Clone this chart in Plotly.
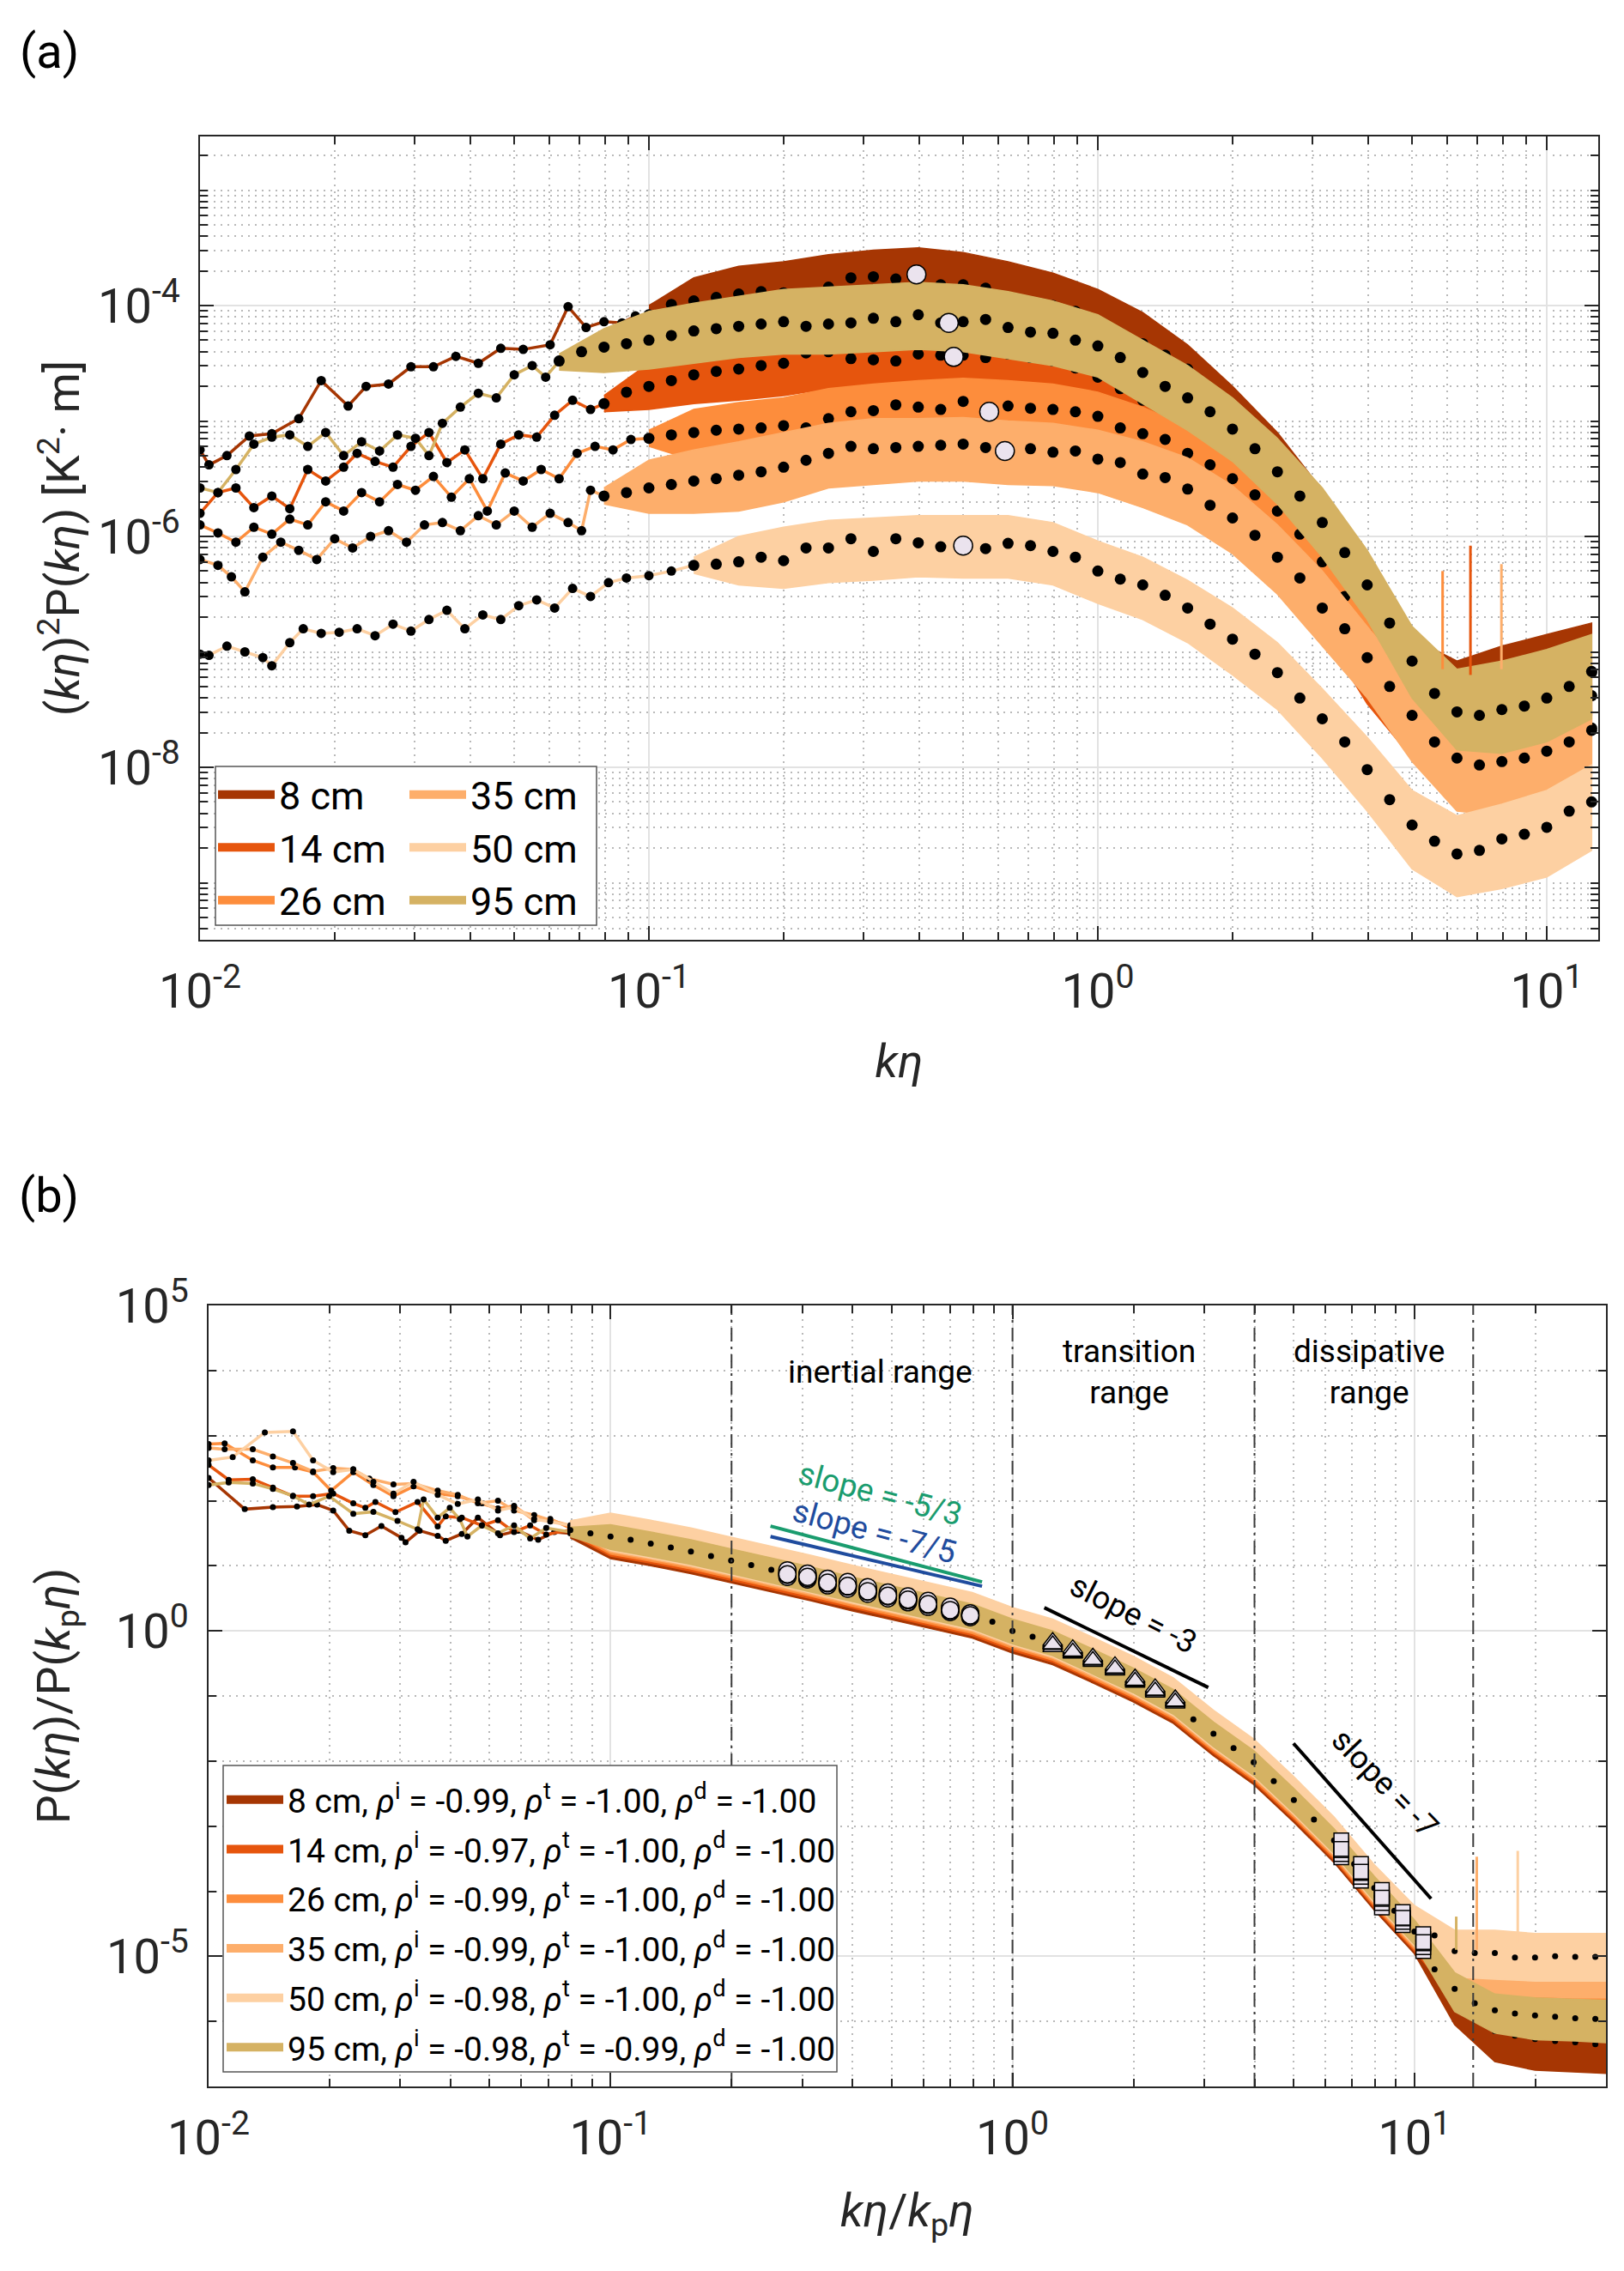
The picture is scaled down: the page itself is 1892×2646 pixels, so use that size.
import math
import plotly.graph_objects as go

W, H = 1892, 2646

# ------------------------------------------------------------------ labels / colours
SERIES = ["8 cm", "14 cm", "26 cm", "35 cm", "50 cm", "95 cm"]
COLORS = ["#a63603", "#e6550d", "#fd8d3c", "#fdae6b", "#fdd0a2", "#d5b263"]
RHO_I = ["-0.99", "-0.97", "-0.99", "-0.99", "-0.98", "-0.98"]
RHO_T = ["-1.00", "-1.00", "-1.00", "-1.00", "-1.00", "-0.99"]
RHO_D = ["-1.00", "-1.00", "-1.00", "-1.00", "-1.00", "-1.00"]

# ------------------------------------------------------------------ panel (a): log10(k eta), log10((k eta)^2 P)
# low-k single-realisation lines
A_LX_8 = [-2.00,-1.98,-1.94,-1.89,-1.84,-1.78,-1.73,-1.67,-1.63,-1.58,-1.53,-1.48,-1.43,-1.38,-1.33,-1.28,-1.22,-1.18,-1.14,-1.10,-1.06,-1.03,-1.00]
A_LY_8 = [-5.25,-5.38,-5.30,-5.13,-5.11,-4.98,-4.65,-4.87,-4.70,-4.68,-4.53,-4.53,-4.44,-4.50,-4.37,-4.38,-4.34,-4.01,-4.19,-4.14,-4.15,-4.09,-4.08]
A_LX_14 = [-2.00,-1.96,-1.92,-1.88,-1.84,-1.80,-1.76,-1.72,-1.68,-1.65,-1.61,-1.57,-1.53,-1.49,-1.45,-1.41,-1.37,-1.33,-1.29,-1.25,-1.21,-1.17,-1.13,-1.10]
A_LY_14 = [-5.80,-5.62,-5.58,-5.75,-5.65,-5.76,-5.42,-5.52,-5.40,-5.28,-5.35,-5.40,-5.22,-5.10,-5.36,-5.25,-5.50,-5.20,-5.12,-5.14,-4.95,-4.82,-4.90,-4.85]
A_LX_26 = [-2.00,-1.96,-1.92,-1.88,-1.84,-1.80,-1.76,-1.72,-1.68,-1.64,-1.60,-1.56,-1.52,-1.48,-1.44,-1.40,-1.36,-1.32,-1.28,-1.24,-1.20,-1.16,-1.12,-1.08,-1.04,-1.00]
A_LY_26 = [-5.90,-5.97,-6.05,-5.92,-5.98,-5.85,-5.90,-5.70,-5.78,-5.62,-5.70,-5.55,-5.60,-5.48,-5.66,-5.50,-5.78,-5.45,-5.52,-5.42,-5.50,-5.28,-5.22,-5.25,-5.16,-5.15]
A_LX_35 = [-2.00,-1.96,-1.93,-1.90,-1.86,-1.82,-1.78,-1.74,-1.70,-1.66,-1.62,-1.58,-1.54,-1.50,-1.46,-1.42,-1.38,-1.34,-1.30,-1.26,-1.22,-1.18,-1.15,-1.13,-1.10]
A_LY_35 = [-6.20,-6.25,-6.35,-6.48,-6.18,-6.05,-6.12,-6.20,-6.02,-6.10,-6.00,-5.95,-6.05,-5.90,-5.88,-5.95,-5.82,-5.90,-5.78,-5.92,-5.80,-5.88,-5.95,-5.60,-5.65]
A_LX_50 = [-2.00,-1.98,-1.94,-1.90,-1.86,-1.84,-1.80,-1.77,-1.73,-1.69,-1.65,-1.61,-1.57,-1.53,-1.49,-1.45,-1.41,-1.37,-1.33,-1.29,-1.25,-1.21,-1.17,-1.13,-1.09,-1.05,-1.00,-0.95,-0.90]
A_LY_50 = [-7.02,-7.03,-6.95,-7.00,-7.05,-7.12,-6.92,-6.80,-6.84,-6.83,-6.80,-6.86,-6.76,-6.82,-6.72,-6.64,-6.80,-6.68,-6.72,-6.60,-6.55,-6.62,-6.45,-6.52,-6.40,-6.36,-6.34,-6.30,-6.25]
A_LX_95 = [-2.00,-1.96,-1.92,-1.88,-1.84,-1.80,-1.76,-1.72,-1.68,-1.64,-1.60,-1.56,-1.52,-1.49,-1.46,-1.42,-1.38,-1.34,-1.30,-1.26,-1.23,-1.20]
A_LY_95 = [-5.58,-5.62,-5.42,-5.20,-5.14,-5.12,-5.22,-5.10,-5.30,-5.18,-5.26,-5.12,-5.15,-5.30,-5.02,-4.88,-4.76,-4.80,-4.60,-4.52,-4.62,-4.48]

# bin-averaged spectra (black dots) on a shared log grid
A_GRID = [-1.30,-1.25,-1.20,-1.15,-1.10,-1.05,-1.00,-0.95,-0.90,-0.85,-0.80,-0.75,-0.70,-0.65,-0.60,-0.55,-0.50,-0.45,-0.40,-0.35,
          -0.30,-0.25,-0.20,-0.15,-0.10,-0.05,0.00,0.05,0.10,0.15,0.20,0.25,0.30,0.35,0.40,0.45,0.50,0.55,0.60,0.65,
          0.70,0.75,0.80,0.85,0.90,0.95,1.00,1.05,1.10]
A_DOT_8 = [None]*6 + [-4.08,-3.99,-3.96,-3.93,-3.90,-3.88,-3.89,-3.90,-3.84,-3.76,-3.75,-3.77,-3.73,-3.82,-3.82,-3.85,-3.94,-3.97,-4.00,-4.05,
                      -4.14,-4.24,-4.33,-4.43,-4.55,-4.72,-4.92,-5.15,-5.40,-5.68,-5.98,-6.30,-6.62,-6.95,-7.22,-7.42,-7.52,-7.55,-7.50,-7.45,
                      -7.38,-7.30,-7.18]
A_DOT_14 = [None]*4 + [-4.85,-4.75,-4.70,-4.65,-4.60,-4.57,-4.55,-4.52,-4.50,-4.41,-4.40,-4.46,-4.47,-4.48,-4.42,-4.43,-4.43,-4.45,-4.42,-4.45,
                       -4.48,-4.54,-4.62,-4.72,-4.82,-4.94,-5.08,-5.25,-5.45,-5.68,-5.93,-6.20,-6.50,-6.82,-7.12,-7.38,-7.58,-7.70,-7.76,-7.76,
                       -7.72,-7.66,-7.58,-7.48,-7.38]
A_DOT_26 = [None]*6 + [-5.15,-5.12,-5.10,-5.08,-5.07,-5.06,-5.04,-5.06,-4.98,-4.92,-4.91,-4.86,-4.88,-4.90,-4.83,-4.91,-4.87,-4.89,-4.90,-4.92,
                       -4.96,-5.06,-5.11,-5.16,-5.28,-5.38,-5.50,-5.64,-5.78,-5.98,-6.22,-6.52,-6.85,-7.18,-7.50,-7.75,-7.92,-7.97,-7.95,-7.92,
                       -7.86,-7.76,-7.66]
A_DOT_35 = [None]*4 + [-5.65,-5.62,-5.58,-5.55,-5.52,-5.50,-5.47,-5.44,-5.40,-5.34,-5.28,-5.22,-5.24,-5.23,-5.22,-5.21,-5.20,-5.23,-5.25,-5.24,
                       -5.27,-5.26,-5.33,-5.36,-5.46,-5.49,-5.59,-5.73,-5.84,-5.99,-6.18,-6.36,-6.62,-6.80,-7.05,-7.30,-7.55,-7.78,-7.92,-7.98,
                       -7.95,-7.92,-7.86,-7.78,-7.68]
A_DOT_50 = [None]*8 + [-6.25,-6.24,-6.22,-6.18,-6.21,-6.10,-6.10,-6.02,-6.13,-6.02,-6.055,-6.09,-6.075,-6.105,-6.06,-6.08,-6.13,-6.18,-6.30,-6.37,
                       -6.42,-6.51,-6.62,-6.76,-6.89,-7.02,-7.18,-7.40,-7.58,-7.78,-8.02,-8.28,-8.50,-8.64,-8.75,-8.72,-8.62,-8.58,-8.52,-8.38,
                       -8.30]
A_DOT_95 = [None]*2 + [-4.48,-4.40,-4.36,-4.33,-4.30,-4.26,-4.22,-4.20,-4.18,-4.16,-4.14,-4.18,-4.16,-4.15,-4.11,-4.14,-4.08,-4.15,-4.14,-4.12,
                       -4.19,-4.23,-4.24,-4.30,-4.35,-4.45,-4.58,-4.70,-4.80,-4.92,-5.07,-5.24,-5.44,-5.65,-5.88,-6.14,-6.42,-6.75,-7.08,-7.36,
                       -7.52,-7.55,-7.50,-7.47,-7.40,-7.30,-7.17]

# envelope of the noisy raw spectra
A_BAND_X = [-1.3,-1.2,-1.1,-1.0,-0.9,-0.8,-0.7,-0.6,-0.5,-0.4,-0.3,-0.2,-0.1,0.0,0.1,0.2,0.3,0.4,0.5,0.6,0.7,0.8,0.9,1.0,1.1]
A_UP_8 = [None,None,None,-4.00,-3.76,-3.66,-3.62,-3.56,-3.52,-3.50,-3.54,-3.62,-3.72,-3.86,-4.06,-4.34,-4.70,-5.10,-5.60,-6.22,-6.88,-7.08,-6.95,-6.85,-6.75]
A_LO_8 = [None,None,None,-4.14,-4.13,-4.10,-4.10,-4.05,-4.00,-3.98,-4.02,-4.12,-4.22,-4.36,-4.55,-4.80,-5.16,-5.66,-6.28,-6.95,-7.55,-7.85,-7.85,-7.72,-7.55]
A_UP_14 = [None,None,-4.78,-4.50,-4.36,-4.30,-4.24,-4.18,-4.20,-4.18,-4.18,-4.18,-4.24,-4.38,-4.56,-4.84,-5.20,-5.66,-6.22,-6.85,-7.28,-7.42,-7.38,-7.25,-7.08]
A_LO_14 = [None,None,-4.92,-4.90,-4.85,-4.82,-4.78,-4.72,-4.75,-4.72,-4.72,-4.72,-4.80,-4.90,-5.10,-5.38,-5.76,-6.25,-6.82,-7.45,-7.92,-8.08,-8.05,-7.92,-7.72]
A_UP_26 = [None,None,None,-5.08,-4.90,-4.84,-4.80,-4.72,-4.68,-4.65,-4.63,-4.65,-4.68,-4.75,-4.88,-5.05,-5.25,-5.52,-5.95,-6.58,-7.22,-7.58,-7.58,-7.48,-7.30]
A_LO_26 = [None,None,None,-5.22,-5.34,-5.36,-5.32,-5.26,-5.18,-5.16,-5.14,-5.16,-5.18,-5.24,-5.38,-5.58,-5.82,-6.10,-6.55,-7.22,-7.90,-8.32,-8.38,-8.26,-8.08]
A_UP_35 = [None,None,-5.58,-5.34,-5.25,-5.18,-5.10,-5.02,-4.98,-4.98,-4.97,-5.00,-5.02,-5.08,-5.18,-5.32,-5.56,-5.90,-6.30,-6.78,-7.25,-7.52,-7.52,-7.45,-7.28]
A_LO_35 = [None,None,-5.72,-5.80,-5.80,-5.78,-5.70,-5.58,-5.55,-5.52,-5.52,-5.55,-5.56,-5.62,-5.75,-5.90,-6.15,-6.50,-6.95,-7.40,-7.95,-8.38,-8.42,-8.32,-8.12]
A_UP_50 = [None,None,None,None,-6.18,-6.00,-5.92,-5.86,-5.84,-5.82,-5.82,-5.82,-5.88,-6.04,-6.18,-6.38,-6.62,-6.92,-7.32,-7.74,-8.20,-8.42,-8.32,-8.20,-7.98]
A_LO_50 = [None,None,None,None,-6.32,-6.42,-6.45,-6.40,-6.38,-6.35,-6.36,-6.36,-6.42,-6.58,-6.72,-6.92,-7.20,-7.50,-7.92,-8.38,-8.88,-9.12,-9.05,-8.95,-8.72]
A_UP_95 = [None,-4.42,-4.20,-4.05,-3.98,-3.92,-3.86,-3.84,-3.82,-3.80,-3.82,-3.88,-3.96,-4.08,-4.30,-4.52,-4.80,-5.15,-5.58,-6.12,-6.78,-7.15,-7.08,-6.98,-6.85]
A_LO_95 = [None,-4.56,-4.58,-4.55,-4.50,-4.45,-4.42,-4.42,-4.40,-4.38,-4.40,-4.46,-4.52,-4.62,-4.85,-5.08,-5.35,-5.72,-6.18,-6.72,-7.40,-7.85,-7.88,-7.78,-7.58]

# isolated spikes near k eta ~ 6-8
A_SPIKE_X = [0.768, 0.830, 0.899]
A_SPIKE_TOP = [-6.30, -6.08, -6.24]
A_SPIKE_BASE = [-7.15, -7.20, -7.15]
A_SPIKE_SERIES = [2, 1, 3]

# peak wavenumber markers (k_p eta)
A_PEAK_X = [-0.404, -0.321, -0.242, -0.207, -0.300, -0.332]
A_PEAK_Y = [-3.73, -4.445, -4.92, -5.26, -6.08, -4.15]

# ------------------------------------------------------------------ panel (b): log10(k eta / k_p eta), log10(P/P(k_p eta))
B_LX_8 = [-2.00,-1.91,-1.84,-1.78,-1.73,-1.69,-1.65,-1.61,-1.57,-1.52,-1.51,-1.475,-1.43,-1.41,-1.37,-1.33,-1.275,-1.23,-1.18,-1.14,-1.10]
B_LY_8 = [2.35,1.87,1.90,1.91,1.94,1.85,1.54,1.47,1.61,1.43,1.36,1.54,1.46,1.385,1.49,1.74,1.47,1.54,1.40,1.52,1.50]
B_LX_14 = [-2.00,-1.95,-1.89,-1.84,-1.79,-1.74,-1.69,-1.64,-1.61,-1.585,-1.535,-1.48,-1.43,-1.41,-1.37,-1.32,-1.28,-1.24,-1.20,-1.16,-1.10]
B_LY_14 = [2.55,2.32,2.33,2.20,2.07,2.07,2.11,1.96,1.89,1.98,1.825,1.98,1.605,1.76,1.74,1.62,1.70,1.52,1.62,1.48,1.55]
B_LX_26 = [-2.00,-1.96,-1.89,-1.84,-1.785,-1.74,-1.695,-1.64,-1.59,-1.54,-1.49,-1.43,-1.38,-1.32,-1.28,-1.24,-1.19,-1.15,-1.10]
B_LY_26 = [2.87,2.88,2.62,2.51,2.51,2.44,2.155,2.44,2.24,2.07,2.22,2.11,2.07,1.96,1.88,1.92,1.70,1.72,1.58]
B_LX_35 = [-2.00,-1.96,-1.89,-1.84,-1.79,-1.74,-1.69,-1.64,-1.60,-1.54,-1.49,-1.43,-1.38,-1.33,-1.28,-1.24,-1.19,-1.15,-1.10]
B_LY_35 = [2.81,2.79,2.79,2.68,2.58,2.45,2.50,2.48,2.34,2.25,2.265,2.155,2.09,1.96,2.00,1.85,1.78,1.70,1.62]
B_LX_50 = [-2.00,-1.94,-1.86,-1.79,-1.74,-1.69,-1.64,-1.59,-1.54,-1.49,-1.43,-1.38,-1.33,-1.28,-1.24,-1.19,-1.15,-1.10]
B_LY_50 = [2.62,2.67,3.05,3.065,2.62,2.44,2.48,2.29,2.11,2.29,2.09,1.95,2.02,1.85,1.90,1.72,1.68,1.62]
B_LX_95 = [-2.00,-1.95,-1.89,-1.84,-1.79,-1.75,-1.70,-1.64,-1.59,-1.53,-1.48,-1.465,-1.43,-1.40,-1.375,-1.356,-1.32,-1.28,-1.24,-1.20,-1.16,-1.10]
B_LY_95 = [2.24,2.28,2.265,2.18,2.075,1.94,2.07,1.80,1.83,1.69,1.56,2.02,1.74,1.89,1.715,1.45,1.62,1.50,1.62,1.42,1.58,1.52]

# collapsed bin averages (all heights coincide up to k/k_p ~ 10) and the separate noise floors
B_GRID = [-1.10,-1.05,-1.00,-0.95,-0.90,-0.85,-0.80,-0.75,-0.70,-0.65,-0.60,-0.55,-0.50,-0.45,-0.40,-0.35,-0.30,-0.25,-0.20,-0.15,
          -0.10,-0.05,0.00,0.05,0.10,0.15,0.20,0.25,0.30,0.35,0.40,0.45,0.50,0.55,0.60,0.65,0.70,0.75,0.80,0.85,
          0.90,0.95,1.00,1.05,1.10,1.15,1.20,1.25,1.30,1.35,1.40,1.45]
B_MID = [1.55,1.50,1.45,1.40,1.34,1.28,1.22,1.15,1.08,1.01,0.94,0.87,0.80,0.72,0.65,0.58,0.51,0.44,0.37,0.30,
         0.23,0.14,0.00,-0.09,-0.18,-0.32,-0.46,-0.60,-0.75,-0.90,-1.08,-1.36,-1.58,-1.80,-2.02,-2.31,-2.60,-2.90,-3.22,-3.58,
         -3.95,-4.30,-4.62]
B_TAIL_8 = [-5.10,-5.62,-5.98,-6.15,-6.22,-6.27,-6.30,-6.32,-6.35]
B_TAIL_14 = [-5.00,-5.30,-5.48,-5.56,-5.60,-5.62,-5.63,-5.62,-5.63]
B_TAIL_26 = [-4.98,-5.25,-5.42,-5.50,-5.55,-5.57,-5.58,-5.58,-5.58]
B_TAIL_35 = [-4.92,-5.12,-5.24,-5.28,-5.30,-5.30,-5.31,-5.32,-5.32]
B_TAIL_50 = [-4.68,-4.92,-4.95,-4.95,-5.02,-5.02,-5.00,-5.01,-5.01]
B_TAIL_95 = [-5.20,-5.50,-5.72,-5.83,-5.88,-5.91,-5.93,-5.95,-5.96]

B_BAND_X = [-1.1,-1.0,-0.9,-0.8,-0.7,-0.6,-0.5,-0.4,-0.3,-0.2,-0.1,0.0,0.1,0.2,0.3,0.4,0.5,0.6,0.7,0.8,0.9,1.0,1.1,1.2,1.3,1.4,1.48]
B_UP_8 = [1.57,1.63,1.52,1.40,1.26,1.12,0.98,0.83,0.69,0.55,0.41,0.18,0.00,-0.28,-0.57,-0.90,-1.40,-1.84,-2.42,-3.04,-3.77,-4.44,-5.20,-5.85,-5.95,-5.98,-6.00]
B_LO_8 = [1.43,1.11,1.00,0.88,0.74,0.60,0.46,0.31,0.17,0.03,-0.11,-0.34,-0.52,-0.80,-1.09,-1.42,-1.92,-2.36,-2.94,-3.56,-4.29,-4.96,-6.05,-6.62,-6.75,-6.78,-6.80]
B_UP_14 = [1.62,1.67,1.56,1.44,1.30,1.16,1.02,0.87,0.73,0.59,0.45,0.22,0.04,-0.24,-0.53,-0.86,-1.36,-1.80,-2.38,-3.00,-3.73,-4.40,-5.00,-5.25,-5.32,-5.32,-5.33]
B_LO_14 = [1.48,1.15,1.04,0.92,0.78,0.64,0.50,0.35,0.21,0.07,-0.07,-0.30,-0.48,-0.76,-1.05,-1.38,-1.88,-2.32,-2.90,-3.52,-4.25,-4.92,-5.65,-5.90,-5.98,-5.98,-5.98]
B_UP_26 = [1.65,1.71,1.60,1.48,1.34,1.20,1.06,0.91,0.77,0.63,0.49,0.26,0.08,-0.20,-0.49,-0.82,-1.32,-1.76,-2.34,-2.96,-3.69,-4.36,-4.95,-5.18,-5.25,-5.27,-5.28]
B_LO_26 = [1.51,1.18,1.07,0.95,0.81,0.67,0.53,0.38,0.24,0.10,-0.04,-0.27,-0.45,-0.73,-1.02,-1.35,-1.85,-2.29,-2.87,-3.49,-4.22,-4.89,-5.58,-5.82,-5.88,-5.90,-5.90]
B_UP_35 = [1.69,1.77,1.66,1.54,1.40,1.26,1.12,0.97,0.83,0.69,0.55,0.32,0.14,-0.14,-0.43,-0.76,-1.26,-1.70,-2.28,-2.90,-3.63,-4.30,-4.80,-4.98,-4.98,-5.00,-5.00]
B_LO_35 = [1.55,1.21,1.10,0.98,0.84,0.70,0.56,0.41,0.27,0.13,-0.01,-0.24,-0.42,-0.70,-0.99,-1.32,-1.82,-2.26,-2.84,-3.46,-4.19,-4.86,-5.45,-5.62,-5.62,-5.64,-5.64]
B_UP_50 = [1.69,1.81,1.70,1.58,1.44,1.30,1.16,1.01,0.87,0.73,0.59,0.36,0.18,-0.10,-0.39,-0.72,-1.22,-1.66,-2.24,-2.86,-3.59,-4.22,-4.60,-4.60,-4.65,-4.65,-4.65]
B_LO_50 = [1.55,1.23,1.12,1.00,0.86,0.72,0.58,0.43,0.29,0.15,0.01,-0.22,-0.40,-0.68,-0.97,-1.30,-1.80,-2.24,-2.82,-3.44,-4.17,-4.84,-5.32,-5.35,-5.38,-5.38,-5.38]
B_UP_95 = [1.59,1.63,1.52,1.40,1.26,1.12,0.98,0.83,0.69,0.55,0.41,0.18,0.00,-0.28,-0.57,-0.90,-1.40,-1.84,-2.42,-3.04,-3.77,-4.44,-5.25,-5.58,-5.64,-5.66,-5.68]
B_LO_95 = [1.45,1.25,1.14,1.02,0.88,0.74,0.60,0.45,0.31,0.17,0.03,-0.20,-0.38,-0.66,-0.95,-1.28,-1.78,-2.22,-2.80,-3.42,-4.15,-4.82,-5.85,-6.18,-6.28,-6.30,-6.33]

B_SPIKE_X = [1.104, 1.155, 1.257]
B_SPIKE_TOP = [-4.39, -3.47, -3.38]
B_SPIKE_BASE = [-4.90, -4.90, -4.80]
B_SPIKE_SERIES = [5, 3, 4]

# range markers: inertial (circles), transition (triangles), dissipative (squares)
B_CIRC_X = [-0.56,-0.51,-0.46,-0.41,-0.36,-0.31,-0.26,-0.21,-0.155,-0.105]
B_CIRC_8 = [0.83,0.79,0.70,0.65,0.57,0.50,0.44,0.37,0.29,0.21]
B_CIRC_14 = [0.86,0.81,0.73,0.68,0.60,0.53,0.47,0.40,0.31,0.23]
B_CIRC_26 = [0.88,0.84,0.75,0.70,0.62,0.55,0.49,0.42,0.33,0.24]
B_CIRC_35 = [0.90,0.86,0.77,0.72,0.64,0.57,0.51,0.44,0.35,0.26]
B_CIRC_50 = [0.93,0.88,0.80,0.75,0.67,0.59,0.53,0.46,0.37,0.27]
B_CIRC_95 = [0.87,0.83,0.74,0.69,0.61,0.54,0.48,0.41,0.32,0.24]
B_TRI_X = [0.10,0.15,0.20,0.255,0.305,0.355,0.405]
B_TRI_8 = [-0.25,-0.35,-0.48,-0.61,-0.80,-0.95,-1.12]
B_TRI_14 = [-0.22,-0.33,-0.46,-0.59,-0.78,-0.93,-1.10]
B_TRI_26 = [-0.20,-0.31,-0.44,-0.57,-0.76,-0.91,-1.08]
B_TRI_35 = [-0.18,-0.29,-0.42,-0.55,-0.74,-0.89,-1.06]
B_TRI_50 = [-0.16,-0.27,-0.40,-0.53,-0.72,-0.87,-1.04]
B_TRI_95 = [-0.21,-0.32,-0.45,-0.58,-0.77,-0.92,-1.09]
B_SQ_X = [0.818,0.867,0.919,0.971,1.022]
B_SQ_8 = [-3.48,-3.84,-4.25,-4.52,-4.92]
B_SQ_14 = [-3.43,-3.78,-4.18,-4.47,-4.86]
B_SQ_26 = [-3.37,-3.72,-4.12,-4.42,-4.80]
B_SQ_35 = [-3.30,-3.66,-4.05,-4.37,-4.74]
B_SQ_50 = [-3.22,-3.58,-3.98,-4.32,-4.66]
B_SQ_95 = [-3.35,-3.70,-4.10,-4.41,-4.78]

B_RANGE_BOUNDS = [0.2, 1.0, 4.0, 14.0]
B_RANGE_NAMES = ["inertial range", "transition<br>range", "dissipative<br>range"]
B_RANGE_LABEL_X = [-0.330, 0.291, 0.887]
B_RANGE_LABEL_Y = 3.98

# reference power laws (end points, real units)
SLOPE_NAMES = ["slope = -5/3", "slope = -7/5", "slope = -3", "slope = -7"]
SLOPE_X = [[0.25, 0.84], [0.25, 0.84], [1.20, 3.07], [5.0, 11.0]]
SLOPE_Y = [[40.7, 5.65], [28.2, 4.85], [2.27, 0.135], [0.0187, 7.66e-5]]
SLOPE_COLORS = ["#1a9c6e", "#1f4c9e", "#000000", "#000000"]
SLOPE_LABEL_X = [-0.330, -0.343, 0.301, 0.926]
SLOPE_LABEL_Y = [2.11, 1.52, 0.264, -2.34]
SLOPE_LABEL_ANGLE = [15, 15, 27, 46]

# ------------------------------------------------------------------ collect
A_LX = [A_LX_8, A_LX_14, A_LX_26, A_LX_35, A_LX_50, A_LX_95]
A_LY = [A_LY_8, A_LY_14, A_LY_26, A_LY_35, A_LY_50, A_LY_95]
A_DOTS = [A_DOT_8, A_DOT_14, A_DOT_26, A_DOT_35, A_DOT_50, A_DOT_95]
A_UP = [A_UP_8, A_UP_14, A_UP_26, A_UP_35, A_UP_50, A_UP_95]
A_LO = [A_LO_8, A_LO_14, A_LO_26, A_LO_35, A_LO_50, A_LO_95]
B_LX = [B_LX_8, B_LX_14, B_LX_26, B_LX_35, B_LX_50, B_LX_95]
B_LY = [B_LY_8, B_LY_14, B_LY_26, B_LY_35, B_LY_50, B_LY_95]
B_TAILS = [B_TAIL_8, B_TAIL_14, B_TAIL_26, B_TAIL_35, B_TAIL_50, B_TAIL_95]
B_UP = [B_UP_8, B_UP_14, B_UP_26, B_UP_35, B_UP_50, B_UP_95]
B_LO = [B_LO_8, B_LO_14, B_LO_26, B_LO_35, B_LO_50, B_LO_95]
B_CIRC = [B_CIRC_8, B_CIRC_14, B_CIRC_26, B_CIRC_35, B_CIRC_50, B_CIRC_95]
B_TRI = [B_TRI_8, B_TRI_14, B_TRI_26, B_TRI_35, B_TRI_50, B_TRI_95]
B_SQ = [B_SQ_8, B_SQ_14, B_SQ_26, B_SQ_35, B_SQ_50, B_SQ_95]


def P(v):
    return [None if a is None else 10 ** a for a in v]


def polygon(xs, up, lo):
    keep = [i for i in range(len(xs)) if up[i] is not None]
    px = [xs[i] for i in keep] + [xs[i] for i in reversed(keep)]
    py = [up[i] for i in keep] + [lo[i] for i in reversed(keep)]
    return P(px), P(py)


MARK_FILL = "#ebe3ee"
fig = go.Figure()


def add(**kw):
    kw.setdefault("showlegend", False)
    kw.setdefault("hoverinfo", "skip")
    fig.add_trace(go.Scatter(**kw))


# ---------------- panel (a)
for i in range(6):
    c = COLORS[i]
    add(x=P(A_LX[i]), y=P(A_LY[i]), mode="lines+markers", line=dict(color=c, width=3.5),
        marker=dict(color="black", size=11), xaxis="x", yaxis="y")
    bx, by = polygon(A_BAND_X, A_UP[i], A_LO[i])
    add(x=bx, y=by, mode="lines", fill="toself", fillcolor=c, line=dict(color=c, width=1.5),
        xaxis="x", yaxis="y")
    add(x=P(A_GRID), y=P(A_DOTS[i]), mode="markers", marker=dict(color="black", size=13),
        xaxis="x", yaxis="y")
for sx, st, sb, si in zip(A_SPIKE_X, A_SPIKE_TOP, A_SPIKE_BASE, A_SPIKE_SERIES):
    add(x=P([sx, sx]), y=P([sb, st]), mode="lines", line=dict(color=COLORS[si], width=3),
        xaxis="x", yaxis="y")
add(x=P(A_PEAK_X), y=P(A_PEAK_Y), mode="markers",
    marker=dict(symbol="circle", size=22, color=MARK_FILL, line=dict(color="black", width=1.5)),
    xaxis="x", yaxis="y")

# ---------------- panel (b)
for i in range(6):
    c = COLORS[i]
    add(x=P(B_LX[i]), y=P(B_LY[i]), mode="lines+markers", line=dict(color=c, width=3.5),
        marker=dict(color="black", size=7), xaxis="x2", yaxis="y2")
    bx, by = polygon(B_BAND_X, B_UP[i], B_LO[i])
    add(x=bx, y=by, mode="lines", fill="toself", fillcolor=c, line=dict(color=c, width=1.5),
        xaxis="x2", yaxis="y2")
    add(x=P(B_GRID), y=P(B_MID + B_TAILS[i]), mode="markers", marker=dict(color="black", size=7),
        xaxis="x2", yaxis="y2")
for sx, st, sb, si in zip(B_SPIKE_X, B_SPIKE_TOP, B_SPIKE_BASE, B_SPIKE_SERIES):
    add(x=P([sx, sx]), y=P([sb, st]), mode="lines", line=dict(color=COLORS[si], width=3),
        xaxis="x2", yaxis="y2")
for b in B_RANGE_BOUNDS:
    add(x=[b, b], y=[1e-7, 1e5], mode="lines",
        line=dict(color="#3c3c3c", width=2, dash="16px,6px,3px,6px"), xaxis="x2", yaxis="y2")
for sx, sy, sc in zip(SLOPE_X, SLOPE_Y, SLOPE_COLORS):
    add(x=sx, y=sy, mode="lines", line=dict(color=sc, width=4), xaxis="x2", yaxis="y2")
for i in range(6):
    add(x=P(B_CIRC_X), y=P(B_CIRC[i]), mode="markers",
        marker=dict(symbol="circle", size=20, color=MARK_FILL, line=dict(color="black", width=1.5)),
        xaxis="x2", yaxis="y2")
    add(x=P(B_TRI_X), y=P(B_TRI[i]), mode="markers",
        marker=dict(symbol="triangle-up", size=20, color=MARK_FILL, line=dict(color="black", width=1.5)),
        xaxis="x2", yaxis="y2")
    add(x=P(B_SQ_X), y=P(B_SQ[i]), mode="markers",
        marker=dict(symbol="square", size=17, color=MARK_FILL, line=dict(color="black", width=1.5)),
        xaxis="x2", yaxis="y2")

# ---------------- legend entries
A_LEG_COL = ["legend", "legend", "legend", "legend2", "legend2", "legend2"]
for i in range(6):
    fig.add_trace(go.Scatter(x=[None], y=[None], mode="lines", name=SERIES[i],
                             line=dict(color=COLORS[i], width=16), legend=A_LEG_COL[i],
                             legendgroup="a%d" % i, showlegend=True, xaxis="x", yaxis="y"))
for i in range(6):
    label = (SERIES[i] + ", <i>ρ</i><sup>i</sup> = " + RHO_I[i] + ", <i>ρ</i><sup>t</sup> = " + RHO_T[i]
             + ", <i>ρ</i><sup>d</sup> = " + RHO_D[i])
    fig.add_trace(go.Scatter(x=[None], y=[None], mode="lines", name=label,
                             line=dict(color=COLORS[i], width=16), legend="legend3",
                             legendgroup="b%d" % i, showlegend=True, xaxis="x2", yaxis="y2"))

# ---------------- axes
FONT = "Roboto"
AXC = "#262626"


def log_axis(rng, domain, anchor, tickvals, minorvals, title, standoff):
    return dict(
        type="log", range=rng, domain=domain, anchor=anchor, automargin=False,
        showline=True, linecolor=AXC, linewidth=2, mirror="ticks",
        ticks="inside", ticklen=16, tickwidth=2, tickcolor=AXC,
        tickvals=tickvals, ticktext=["10<sup>%d</sup>" % round(math.log10(v)) for v in tickvals],
        tickfont=dict(family=FONT, size=56, color=AXC), ticklabelstandoff=10,
        showgrid=True, gridcolor="#e2e2e2", gridwidth=1.5, zeroline=False,
        minor=dict(tickvals=minorvals, ticks="inside", ticklen=9, tickwidth=1.5, tickcolor=AXC,
                   showgrid=True, gridcolor="#b9b9b9", griddash="2px,6px", gridwidth=1.5),
        title=dict(text=title, font=dict(family=FONT, size=54, color=AXC), standoff=standoff),
    )


minor_x = [m * 10.0 ** e for e in (-2, -1, 0, 1) for m in range(2, 10)]
minor_ya = [m * 10.0 ** e for e in range(-10, -2) for m in range(1, 10) if not (m == 1 and e % 2 == 0)]
minor_yb = [10.0 ** e for e in range(-7, 6) if e not in (-5, 0, 5)]

LEG_A = dict(xanchor="left", yanchor="top", bgcolor="rgba(0,0,0,0)",
             font=dict(family=FONT, size=45, color="black"), itemwidth=66, tracegroupgap=0)
fig.update_layout(
    width=W, height=H, margin=dict(l=0, r=0, t=0, b=0, autoexpand=False),
    paper_bgcolor="white", plot_bgcolor="white",
    font=dict(family=FONT, color="black"),
    xaxis=log_axis([-2, 1.1147], [233 / W, 1862 / W], "y", [0.01, 0.1, 1, 10], minor_x,
                   "<i>kη</i>", 30),
    yaxis=log_axis([-9.4944, -2.5353], [1 - 1095 / H, 1 - 159 / H], "x", [1e-8, 1e-6, 1e-4], minor_ya,
                   "(<i>kη</i>)<sup>2</sup>P(<i>kη</i>) [K<sup>2</sup>· m]", 4),
    xaxis2=log_axis([-2, 1.4765], [243 / W, 1871 / W], "y2", [0.01, 0.1, 1, 10], minor_x,
                    "<i>kη</i>/<i>k</i><sub>p</sub><i>η</i>", 33),
    yaxis2=log_axis([-7, 5], [1 - 2431 / H, 1 - 1521 / H], "x2", [1e-5, 1, 1e5], minor_yb,
                    "P(<i>kη</i>)/P(<i>k</i><sub>p</sub><i>η</i>)", 25),
    legend=dict(x=249 / W, y=1 - 890 / H, **LEG_A),
    legend2=dict(x=472 / W, y=1 - 890 / H, **LEG_A),
    legend3=dict(x=259 / W, y=1 - 2065 / H, xanchor="left", yanchor="top", bgcolor="rgba(0,0,0,0)",
                 font=dict(family=FONT, size=39, color="black"), itemwidth=66, tracegroupgap=4),
    shapes=[
        dict(type="rect", xref="paper", yref="paper", x0=251 / W, x1=695 / W, y0=1 - 1078 / H, y1=1 - 893 / H,
             line=dict(color="#555555", width=1.5), fillcolor="white", layer="above"),
        dict(type="rect", xref="paper", yref="paper", x0=260 / W, x1=975 / W, y0=1 - 2414 / H, y1=1 - 2057 / H,
             line=dict(color="#555555", width=1.5), fillcolor="white", layer="above"),
    ],
)

ann = [
    dict(text="(a)", x=57 / W, y=1 - 60 / H, xref="paper", yref="paper", showarrow=False,
         xanchor="center", yanchor="middle", font=dict(family=FONT, size=56, color="black")),
    dict(text="(b)", x=57 / W, y=1 - 1393 / H, xref="paper", yref="paper", showarrow=False,
         xanchor="center", yanchor="middle", font=dict(family=FONT, size=56, color="black")),
]
for name, lx in zip(B_RANGE_NAMES, B_RANGE_LABEL_X):
    ann.append(dict(text=name, x=lx, y=B_RANGE_LABEL_Y, xref="x2", yref="y2", showarrow=False,
                    xanchor="center", yanchor="middle", font=dict(family=FONT, size=37, color="black")))
for name, lx, ly, ang, col in zip(SLOPE_NAMES, SLOPE_LABEL_X, SLOPE_LABEL_Y, SLOPE_LABEL_ANGLE, SLOPE_COLORS):
    ann.append(dict(text=name, x=lx, y=ly, xref="x2", yref="y2", showarrow=False, textangle=ang,
                    xanchor="center", yanchor="middle", font=dict(family=FONT, size=37, color=col)))
fig.update_layout(annotations=ann)

fig.write_html("out.html", config={"displayModeBar": False},
               post_script="document.body.style.margin='0';")
